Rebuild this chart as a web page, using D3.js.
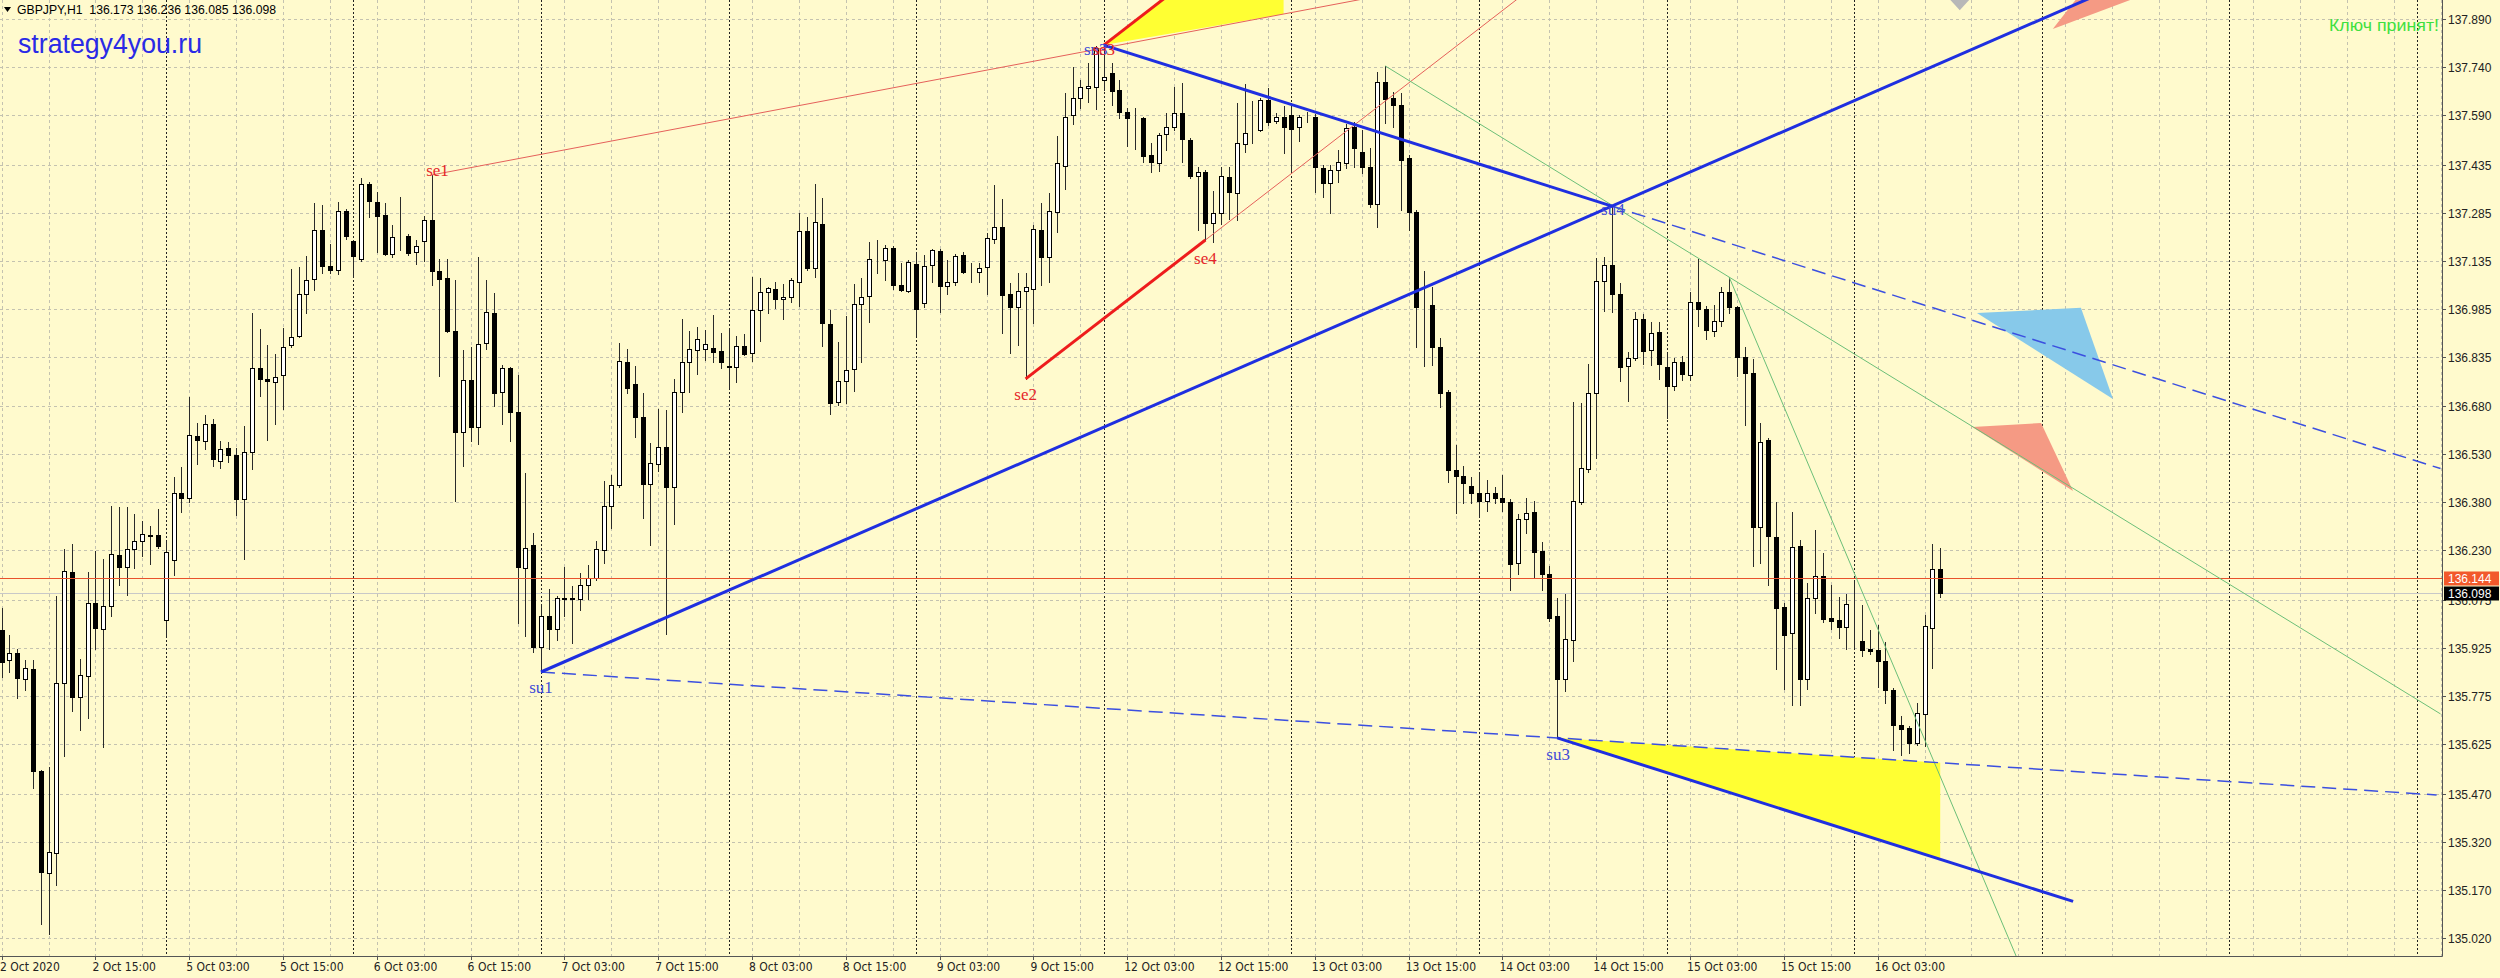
<!DOCTYPE html>
<html>
<head>
<meta charset="utf-8">
<script src="https://cdn.jsdelivr.net/npm/d3@7"></script>
<style>
  body { margin: 0; background: #fffacd; }
  svg { display: block; }
</style>
</head>
<body>
<div id="chart"></div>
<script>
// GBPJPY H1, [open, high, low, close], first bar = 2 Oct 2020 03:00
const candles = [
  [135.981,136.050,135.834,135.881],[135.888,135.966,135.850,135.909],[135.909,135.922,135.769,135.831],[135.828,135.888,135.794,135.863],
  [135.859,135.888,135.488,135.541],[135.541,135.544,135.063,135.225],[135.222,135.553,135.031,135.288],[135.284,136.088,135.184,135.816],
  [135.816,136.234,135.588,136.166],[136.163,136.250,135.728,135.772],[135.772,135.891,135.669,135.841],[135.838,136.163,135.706,136.066],
  [136.066,136.228,135.922,135.988],[135.984,136.203,135.616,136.056],[136.056,136.369,136.025,136.219],[136.216,136.366,136.122,136.178],
  [136.178,136.366,136.091,136.234],[136.234,136.344,136.175,136.259],[136.259,136.322,136.213,136.281],[136.278,136.306,136.188,136.275],
  [136.278,136.359,136.238,136.244],[136.013,136.259,135.966,136.225],[136.200,136.459,136.153,136.409],[136.409,136.491,136.350,136.394],
  [136.394,136.709,136.381,136.591],[136.588,136.628,136.500,136.575],[136.572,136.653,136.547,136.625],[136.625,136.641,136.494,136.516],
  [136.509,136.572,136.488,136.547],[136.550,136.569,136.506,136.528],[136.528,136.550,136.341,136.391],[136.391,136.619,136.203,136.538],
  [136.538,136.972,136.484,136.800],[136.800,136.922,136.713,136.766],[136.766,136.872,136.575,136.759],[136.756,136.844,136.625,136.772],
  [136.778,136.925,136.672,136.866],[136.872,137.109,136.866,136.897],[136.900,137.116,136.897,137.031],[137.031,137.150,136.972,137.075],
  [137.078,137.316,137.044,137.231],[137.231,137.309,137.097,137.119],[137.119,137.188,137.097,137.106],[137.106,137.319,137.094,137.291],
  [137.291,137.297,137.203,137.213],[137.197,137.200,137.084,137.150],[137.141,137.394,137.134,137.375],[137.375,137.381,137.272,137.322],
  [137.319,137.350,137.163,137.275],[137.278,137.316,137.153,137.156],[137.156,137.247,137.147,137.209],[137.212,137.334,137.169,137.213],
  [137.213,137.219,137.153,137.159],[137.163,137.200,137.125,137.181],[137.197,137.275,137.134,137.263],[137.263,137.403,137.059,137.103],
  [137.103,137.141,136.775,137.078],[137.081,137.141,136.913,136.916],[136.916,137.075,136.384,136.600],[136.600,136.856,136.494,136.763],
  [136.763,136.866,136.572,136.616],[136.616,137.147,136.563,136.875],[136.878,137.075,136.859,136.975],[136.972,137.034,136.681,136.722],
  [136.725,136.809,136.625,136.800],[136.800,136.803,136.572,136.663],[136.663,136.778,136.003,136.178],[136.175,136.472,135.963,136.238],
  [136.247,136.284,135.913,135.928],[135.928,136.063,135.850,136.025],[136.025,136.109,135.922,135.984],[135.984,136.088,135.950,136.081],
  [136.081,136.178,136.025,136.078],[136.081,136.119,135.941,136.078],[136.078,136.159,136.044,136.122],[136.122,136.184,136.078,136.144],
  [136.144,136.259,136.138,136.234],[136.231,136.447,136.191,136.369],[136.369,136.466,136.300,136.434],[136.434,136.878,136.428,136.822],
  [136.819,136.859,136.722,136.738],[136.750,136.806,136.584,136.647],[136.647,136.722,136.331,136.438],[136.438,136.566,136.247,136.503],
  [136.500,136.672,136.478,136.553],[136.553,136.669,135.969,136.428],[136.428,136.766,136.313,136.725],[136.725,136.953,136.663,136.819],
  [136.819,136.916,136.725,136.859],[136.856,136.928,136.781,136.891],[136.859,136.919,136.825,136.875],[136.863,136.966,136.819,136.850],
  [136.853,136.909,136.800,136.819],[136.806,136.925,136.738,136.803],[136.803,136.900,136.756,136.869],[136.869,136.906,136.841,136.844],
  [136.847,137.084,136.822,136.981],[136.981,137.081,136.884,137.038],[137.038,137.053,136.972,137.050],[137.047,137.069,136.988,137.016],
  [137.016,137.063,136.953,137.022],[137.022,137.081,137.006,137.075],[137.069,137.284,136.994,137.228],[137.228,137.272,137.106,137.113],
  [137.113,137.375,137.084,137.256],[137.250,137.331,136.869,136.941],[136.938,136.981,136.656,136.691],[136.694,136.881,136.684,136.759],
  [136.759,136.963,136.691,136.794],[136.797,137.063,136.728,137.000],[137.000,137.081,136.819,137.022],[137.025,137.194,136.944,137.141],
  [137.137,137.200,137.097,137.138],[137.138,137.184,137.075,137.175],[137.175,137.181,137.047,137.059],[137.059,137.128,137.041,137.044],
  [137.041,137.138,137.038,137.131],[137.125,137.163,136.903,136.984],[137.003,137.153,136.991,137.119],[137.122,137.172,137.069,137.169],
  [137.166,137.172,136.975,137.056],[137.056,137.138,137.031,137.069],[137.069,137.156,137.059,137.150],[137.153,137.163,137.097,137.100],
  [137.100,137.128,137.069,137.100],[137.100,137.128,137.069,137.113],[137.116,137.222,137.031,137.206],[137.203,137.372,137.191,137.241],
  [137.241,137.328,136.909,137.028],[137.031,137.066,136.847,136.991],[136.991,137.097,136.872,137.041],[137.041,137.097,136.766,137.053],
  [137.047,137.247,136.941,137.234],[137.231,137.316,137.059,137.147],[137.147,137.347,137.069,137.291],[137.288,137.525,137.225,137.441],
  [137.431,137.659,137.359,137.584],[137.591,137.741,137.563,137.644],[137.644,137.700,137.613,137.678],[137.675,137.753,137.631,137.681],
  [137.678,137.806,137.609,137.800],[137.700,137.809,137.669,137.709],[137.722,137.753,137.622,137.666],[137.669,137.700,137.581,137.600],
  [137.600,137.613,137.494,137.581],[137.581,137.613,137.484,137.581],[137.581,137.584,137.444,137.463],[137.466,137.503,137.413,137.444],
  [137.441,137.534,137.416,137.528],[137.531,137.597,137.481,137.553],[137.553,137.678,137.544,137.597],[137.597,137.691,137.444,137.516],
  [137.513,137.519,137.394,137.400],[137.400,137.428,137.231,137.413],[137.413,137.419,137.200,137.253],[137.253,137.353,137.194,137.284],
  [137.284,137.428,137.250,137.400],[137.397,137.428,137.266,137.350],[137.347,137.628,137.263,137.503],[137.500,137.688,137.475,137.534],
  [137.544,137.634,137.503,137.544],[137.544,137.644,137.541,137.638],[137.638,137.675,137.559,137.569],[137.572,137.597,137.566,137.584],
  [137.584,137.619,137.472,137.553],[137.591,137.628,137.413,137.547],[137.553,137.591,137.509,137.584],[137.581,137.600,137.569,137.582],
  [137.584,137.594,137.350,137.428],[137.425,137.434,137.334,137.378],[137.378,137.434,137.284,137.419],[137.419,137.481,137.381,137.444],
  [137.441,137.563,137.425,137.550],[137.553,137.569,137.428,137.488],[137.475,137.544,137.409,137.428],[137.428,137.488,137.303,137.313],
  [137.313,137.725,137.241,137.694],[137.694,137.744,137.566,137.641],[137.644,137.663,137.553,137.622],[137.622,137.659,137.294,137.450],
  [137.456,137.466,137.231,137.288],[137.288,137.294,136.866,136.991],[136.994,137.103,136.806,136.994],[136.997,137.053,136.809,136.866],
  [136.866,136.894,136.678,136.722],[136.725,136.731,136.444,136.481],[136.481,136.559,136.347,136.463],[136.463,136.494,136.378,136.441],
  [136.431,136.459,136.378,136.409],[136.409,136.469,136.334,136.384],[136.384,136.450,136.353,136.409],[136.409,136.428,136.378,136.394],
  [136.394,136.466,136.353,136.381],[136.381,136.391,136.106,136.188],[136.191,136.344,136.156,136.328],[136.328,136.394,136.284,136.347],
  [136.350,136.384,136.144,136.225],[136.228,136.256,136.106,136.156],[136.156,136.181,136.009,136.019],[136.025,136.081,135.644,135.828],
  [135.828,136.094,135.791,135.953],[135.950,136.694,135.884,136.384],[136.381,136.691,136.375,136.488],[136.484,136.813,136.475,136.722],
  [136.722,137.144,136.519,137.072],[137.072,137.147,136.978,137.122],[137.122,137.306,136.975,137.031],[137.031,137.066,136.759,136.803],
  [136.806,136.850,136.697,136.831],[136.831,136.975,136.825,136.953],[136.953,136.969,136.813,136.853],[136.856,136.944,136.809,136.909],
  [136.913,136.944,136.766,136.813],[136.803,136.847,136.644,136.744],[136.744,136.831,136.731,136.819],[136.819,136.838,136.763,136.781],
  [136.778,137.038,136.763,137.006],[137.006,137.141,136.931,136.984],[136.984,136.994,136.891,136.919],[136.916,136.997,136.900,136.947],
  [136.947,137.053,136.931,137.038],[137.038,137.084,136.972,136.991],[136.991,136.994,136.775,136.834],[136.834,136.866,136.622,136.784],
  [136.784,136.828,136.181,136.303],[136.303,136.628,136.191,136.569],[136.575,136.581,136.122,136.275],[136.272,136.381,135.859,136.050],
  [136.053,136.066,135.797,135.966],[135.972,136.350,135.747,136.241],[136.244,136.263,135.747,135.828],[135.828,136.128,135.797,136.081],
  [136.081,136.294,136.034,136.150],[136.150,136.222,136.006,136.016],[136.019,136.122,135.984,136.009],[136.013,136.084,135.956,135.991],
  [135.991,136.094,135.922,136.063],[135.963,136.138,135.928,135.962],[135.947,136.059,135.900,135.919],[135.922,135.981,135.906,135.916],
  [135.919,135.997,135.803,135.884],[135.884,135.944,135.753,135.794],[135.794,135.800,135.606,135.684],[135.684,135.713,135.591,135.672],
  [135.675,135.681,135.597,135.628],[135.628,135.753,135.622,135.722],[135.719,136.028,135.619,135.994],[135.988,136.250,135.863,136.172],
  [136.173,136.236,136.085,136.098]
];

const priceTicks = [137.890,137.740,137.590,137.435,137.285,137.135,136.985,136.835,136.680,136.530,
  136.380,136.230,136.075,135.925,135.775,135.625,135.470,135.320,135.170,135.020];

const firstBarTime = new Date(2020, 9, 2, 3);
const askPrice = 136.144;
const bidPrice = 136.098;
const symbolHeader = 'GBPJPY,H1  136.173 136.236 136.085 136.098';

// swing points [bar, price]
const pivots = [
  { name: 'se1', bar: 55, price: 137.403, side: 'se' },
  { name: 'se2', bar: 131, price: 136.766, side: 'se' },
  { name: 'se4', bar: 154, price: 137.200, side: 'se' },
  { name: 'sn3', bar: 141, price: 137.809, side: 'su' },
  { name: 'se3', bar: 141, price: 137.809, side: 'se' },
  { name: 'su1', bar: 69, price: 135.850, side: 'su' },
  { name: 'su3', bar: 199, price: 135.644, side: 'su' },
  { name: 'su4', bar: 206, price: 137.306, side: 'su' }
];

// trend lines as pairs of [bar, price]
const lineSe1 = [[55, 137.403], [141, 137.800]];
const lineSeChannel = [[131, 136.766], [154, 137.200]];
const lineSuRise = [[69, 135.850], [206, 137.306]];
const lineSuFall = [[141, 137.809], [206, 137.306]];
const lineSuLow = [[69, 135.850], [199, 135.644]];
const lineGreen1 = [[177, 137.744], [221, 137.084]];
const lineGreen2 = [[221, 137.084], [248.2, 135.512]];

// arrow shapes on the right, vertices [bar, price]
const shapeBlue = [[252.7, 136.972], [266.0, 136.988], [270.1, 136.703]];
const shapeSalmonMid = [[252.1, 136.616], [260.9, 136.628], [265.0, 136.416]];
const shapeSalmonTop = [[262.4, 137.859], [265.3, 137.950], [272.3, 137.950]];
const shapeGrayTop = [[249.3, 137.950], [251.7, 137.950], [250.5, 137.918]];

const W = 2500, H = 978;
const plotW = 2442, plotH = 956;
const barStep = 7.817;
const lastBar = 312;

const x = d3.scaleLinear().domain([0, 100]).range([1.6, 1.6 + 100 * barStep]);
const y = d3.scaleLinear().domain([134.9625, 137.950]).range([plotH, 0]);

// hourly bar times, weekends skipped
const barTimes = [];
for (let t = new Date(firstBarTime); barTimes.length <= lastBar; t = new Date(t.getTime() + 3600e3)) {
  const wd = t.getDay();
  if (wd !== 0 && wd !== 6) barTimes.push(t);
}
const fmtFirst = d3.timeFormat('%-d %b %Y');
const fmtBar = d3.timeFormat('%-d %b %H:%M');

const at = (ln, b) => ln[0][1] + (ln[1][1] - ln[0][1]) * (b - ln[0][0]) / (ln[1][0] - ln[0][0]);
const slopeOf = (ln) => (ln[1][1] - ln[0][1]) / (ln[1][0] - ln[0][0]);
const parAt = (ln, p, b) => p[1] + slopeOf(ln) * (b - p[0]);
const px = (b) => x(b);
const py = (p) => y(p);

const svg = d3.select('#chart').append('svg')
  .attr('width', W).attr('height', H);

svg.append('rect').attr('width', W).attr('height', H).attr('fill', '#fffacd');

svg.append('clipPath').attr('id', 'plot')
  .append('rect').attr('width', plotW).attr('height', plotH);

const grid = svg.append('g');
const crisp = (v) => Math.round(v) + 0.5;

// horizontal grid
grid.selectAll('.hgrid').data(priceTicks).enter().append('line')
  .attr('x1', 0).attr('x2', plotW)
  .attr('y1', (d) => crisp(y(d))).attr('y2', (d) => crisp(y(d)))
  .attr('stroke', '#c4c2b0').attr('stroke-dasharray', '3,3');

// vertical grid every 6 bars
const allBars = d3.range(0, lastBar + 1);
grid.selectAll('.vgrid').data(allBars.filter((i) => i % 6 === 0)).enter().append('line')
  .attr('x1', (d) => crisp(x(d))).attr('x2', (d) => crisp(x(d)))
  .attr('y1', 0).attr('y2', plotH)
  .attr('stroke', '#c4c2b0').attr('stroke-dasharray', '3,3');

// day separators
grid.selectAll('.daysep').data(allBars.filter((i) => barTimes[i].getHours() === 0)).enter().append('line')
  .attr('x1', (d) => crisp(x(d))).attr('x2', (d) => crisp(x(d)))
  .attr('y1', 0).attr('y2', plotH)
  .attr('stroke', '#222').attr('stroke-dasharray', '2,2');

const plot = svg.append('g').attr('clip-path', 'url(#plot)');

// bid line under candles
plot.append('line')
  .attr('x1', 0).attr('x2', plotW)
  .attr('y1', crisp(y(bidPrice))).attr('y2', crisp(y(bidPrice)))
  .attr('stroke', '#c8c8c8');

// candles
const cg = plot.append('g');
cg.selectAll('.wick').data(candles).enter().append('line')
  .attr('x1', (d, i) => Math.round(x(i)) + 0.5)
  .attr('x2', (d, i) => Math.round(x(i)) + 0.5)
  .attr('y1', (d) => Math.round(y(d[1])))
  .attr('y2', (d) => Math.round(y(d[2])) + 1)
  .attr('stroke', '#2a2a2a');

cg.selectAll('.body').data(candles).enter().append('rect')
  .attr('x', (d, i) => Math.round(x(i)) - 1.5)
  .attr('y', (d) => Math.round(y(Math.max(d[0], d[3]))) + 0.5)
  .attr('width', 4)
  .attr('height', (d) => Math.max(0, Math.round(y(Math.min(d[0], d[3]))) - Math.round(y(Math.max(d[0], d[3])))))
  .attr('fill', (d) => (d[3] >= d[0] ? '#ffffff' : '#000000'))
  .attr('stroke', '#000');

// ask line
plot.append('line')
  .attr('x1', 0).attr('x2', plotW)
  .attr('y1', crisp(y(askPrice))).attr('y2', crisp(y(askPrice)))
  .attr('stroke', '#e8512c');

// objects
const obj = plot.append('g');
const path = (pts) => 'M' + pts.map((p) => `${px(p[0])},${py(p[1])}`).join('L') + 'Z';
const seg = (b0, b1, fn) => [[b0, fn(b0)], [b1, fn(b1)]];

const apex = lineSuFall[0];
const chanTopBar = apex[0] + (137.950 - apex[1]) / slopeOf(lineSeChannel);
const yellowTop = [apex, [chanTopBar, 137.950], [164, 137.950], [164, at(lineSe1, 164)]];
const su3 = [199, 135.644];
const yellowLow = [su3, [248, at(lineSuLow, 248)], [248, parAt(lineSuFall, su3, 248)]];

obj.append('path').attr('d', path(yellowTop)).attr('fill', '#ffff33');
obj.append('path').attr('d', path(yellowLow)).attr('fill', '#ffff33');

const shapes = [
  { pts: shapeBlue, fill: '#87c9ea' },
  { pts: shapeSalmonMid, fill: '#f59a84' },
  { pts: shapeSalmonTop, fill: '#f59a84' },
  { pts: shapeGrayTop, fill: '#b8b8b8' }
];
obj.selectAll('.shape').data(shapes).enter().append('path')
  .attr('d', (d) => path(d.pts)).attr('fill', (d) => d.fill);

const segments = [
  { pts: seg(55, 200, (b) => at(lineSe1, b)), stroke: '#e5605a', w: 1 },
  { pts: seg(154, 200, (b) => at(lineSeChannel, b)), stroke: '#e5605a', w: 1 },
  { pts: seg(131, 154, (b) => at(lineSeChannel, b)), stroke: '#ee1c1c', w: 3 },
  { pts: seg(141, 160, (b) => parAt(lineSeChannel, apex, b)), stroke: '#ee1c1c', w: 3 },
  { pts: seg(177, lastBar, (b) => at(lineGreen1, b)), stroke: '#6cbf78', w: 1 },
  { pts: seg(221, 275, (b) => at(lineGreen2, b)), stroke: '#6cbf78', w: 1 },
  { pts: seg(69, 311.5, (b) => at(lineSuLow, b)), stroke: '#3b4fe0', w: 1.5, dash: '14,7' },
  { pts: seg(206, lastBar, (b) => at(lineSuFall, b)), stroke: '#3b4fe0', w: 1.5, dash: '14,7' },
  { pts: seg(69, lastBar, (b) => at(lineSuRise, b)), stroke: '#1f2fe0', w: 3 },
  { pts: seg(141, 206, (b) => at(lineSuFall, b)), stroke: '#1f2fe0', w: 3 },
  { pts: seg(199, 265, (b) => parAt(lineSuFall, su3, b)), stroke: '#1f2fe0', w: 3 }
];
obj.selectAll('.seg').data(segments).enter().append('line')
  .attr('x1', (d) => px(d.pts[0][0])).attr('y1', (d) => py(d.pts[0][1]))
  .attr('x2', (d) => px(d.pts[1][0])).attr('y2', (d) => py(d.pts[1][1]))
  .attr('stroke', (d) => d.stroke)
  .attr('stroke-width', (d) => d.w)
  .attr('stroke-dasharray', (d) => d.dash || null);

// pivot labels
const labelOffset = {
  se1: [6, 1], se2: [0, 21], se4: [0, 24], sn3: [-8, 10], se3: [0, 10],
  su1: [0, 21], su3: [1, 22], su4: [1, 9]
};
obj.selectAll('.pivot').data(pivots).enter().append('text')
  .attr('x', (d) => px(d.bar) + labelOffset[d.name][0])
  .attr('y', (d) => py(d.price) + labelOffset[d.name][1])
  .attr('text-anchor', 'middle')
  .attr('font-family', 'Liberation Serif, serif')
  .attr('font-size', 17)
  .attr('fill', (d) => (d.side === 'se' ? '#e5262a' : '#3f4ad8'))
  .text((d) => d.name);

// frame
svg.append('line').attr('x1', plotW + 0.5).attr('x2', plotW + 0.5).attr('y1', 0).attr('y2', plotH + 0.5)
  .attr('stroke', '#555');
svg.append('line').attr('x1', 0).attr('x2', plotW + 0.5).attr('y1', plotH + 0.5).attr('y2', plotH + 0.5)
  .attr('stroke', '#555');

// price axis
const axisFont = 'Liberation Sans, Arial, sans-serif';
const pa = svg.append('g');
pa.selectAll('.ptick').data(priceTicks).enter().append('line')
  .attr('x1', plotW).attr('x2', plotW + 4)
  .attr('y1', (d) => crisp(y(d))).attr('y2', (d) => crisp(y(d)))
  .attr('stroke', '#555');
pa.selectAll('.plabel').data(priceTicks).enter().append('text')
  .attr('x', plotW + 6).attr('y', (d) => Math.round(y(d)) + 5)
  .attr('font-family', axisFont).attr('font-size', 12).attr('fill', '#222')
  .text((d) => d.toFixed(3));

const priceBoxes = [
  { p: askPrice, fill: '#f2592b' },
  { p: bidPrice, fill: '#000000' }
];
const pb = pa.selectAll('.pbox').data(priceBoxes).enter().append('g');
pb.append('rect')
  .attr('x', plotW + 2).attr('y', (d) => Math.round(y(d.p)) - 6.5)
  .attr('width', 55).attr('height', 14).attr('fill', (d) => d.fill);
pb.append('text')
  .attr('x', plotW + 6).attr('y', (d) => Math.round(y(d.p)) + 5)
  .attr('font-family', axisFont).attr('font-size', 12).attr('fill', '#fff')
  .text((d) => d.p.toFixed(3));

// time axis
const ta = svg.append('g');
const labelBars = allBars.filter((i) => i % 12 === 0 && i < candles.length);
ta.selectAll('.ttick').data(labelBars).enter().append('line')
  .attr('x1', (d) => crisp(x(d))).attr('x2', (d) => crisp(x(d)))
  .attr('y1', plotH).attr('y2', plotH + 4)
  .attr('stroke', '#555');
ta.selectAll('.tlabel').data(labelBars).enter().append('text')
  .attr('x', (d) => Math.max(0, x(d) - 3)).attr('y', plotH + 15)
  .attr('font-family', 'DejaVu Sans Condensed, DejaVu Sans, sans-serif')
  .attr('font-stretch', 'condensed')
  .attr('font-size', 12).attr('fill', '#222')
  .text((d) => (d === 0 ? fmtFirst(barTimes[d]) : fmtBar(barTimes[d])));

// header texts
svg.append('path').attr('d', 'M4,7 L11,7 L7.5,12 Z').attr('fill', '#000');
svg.append('text').attr('x', 17).attr('y', 14)
  .attr('font-family', axisFont).attr('font-size', 12).attr('fill', '#000')
  .attr('textLength', 259).attr('lengthAdjust', 'spacingAndGlyphs')
  .attr('xml:space', 'preserve')
  .text(symbolHeader);
svg.append('text').attr('x', 18).attr('y', 53)
  .attr('font-family', axisFont).attr('font-size', 27).attr('fill', '#2a2ae6')
  .attr('textLength', 184).attr('lengthAdjust', 'spacingAndGlyphs')
  .text('strategy4you.ru');
svg.append('text').attr('x', 2329).attr('y', 31)
  .attr('font-family', axisFont).attr('font-size', 17).attr('fill', '#3ee03e')
  .attr('textLength', 110).attr('lengthAdjust', 'spacingAndGlyphs')
  .text('Ключ принят!');
</script>
</body>
</html>
